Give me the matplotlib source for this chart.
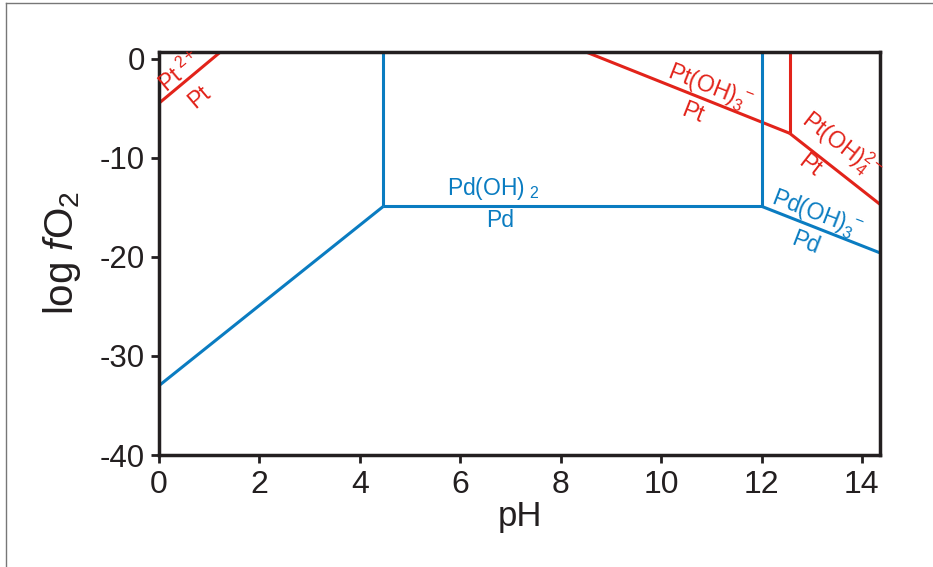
import matplotlib
matplotlib.use('Agg')
import matplotlib.pyplot as plt
from matplotlib.lines import Line2D

plt.rcParams['font.family'] = ['Liberation Sans', 'DejaVu Sans']
plt.rcParams['mathtext.fontset'] = 'custom'
plt.rcParams['mathtext.rm'] = 'Liberation Sans'
plt.rcParams['mathtext.it'] = 'Liberation Sans:italic'
plt.rcParams['mathtext.default'] = 'regular'
plt.rcParams['axes.unicode_minus'] = False

red = '#e2231a'
blue = '#0a7cc1'
dark = '#231f20'

# Pt boundaries
pt2_ph = [0, 1.23]
pt2_fo2 = [-4.5, 0.7]
pt3_ph = [8.49, 12.56]
pt3_fo2 = [0.7, -7.53]
pt34_ph = [12.56, 12.56]
pt34_fo2 = [-7.53, 0.7]
pt4_ph = [12.56, 14.36]
pt4_fo2 = [-7.53, -14.7]

# Pd boundaries
pd_left_ph = [0, 4.47]
pd_left_fo2 = [-33.0, -14.9]
pd_v1_ph = [4.47, 4.47]
pd_v1_fo2 = [-14.9, 0.7]
pd_h_ph = [4.47, 12.0]
pd_h_fo2 = [-14.9, -14.9]
pd_v2_ph = [12.0, 12.0]
pd_v2_fo2 = [-14.9, 0.7]
pd3_ph = [12.0, 14.36]
pd3_fo2 = [-14.9, -19.6]

xticks = [0, 2, 4, 6, 8, 10, 12, 14]
yticks = [0, -10, -20, -30, -40]

fig = plt.figure(figsize=(9.33, 5.67), dpi=100)
ax = fig.add_axes([0.1704, 0.1975, 0.7728, 0.7113])

lw = 2.2
for xs, ys in [(pt2_ph, pt2_fo2), (pt3_ph, pt3_fo2), (pt34_ph, pt34_fo2), (pt4_ph, pt4_fo2)]:
    ax.plot(xs, ys, color=red, lw=lw, solid_capstyle='butt')
for xs, ys in [(pd_left_ph, pd_left_fo2), (pd_v1_ph, pd_v1_fo2), (pd_h_ph, pd_h_fo2),
               (pd_v2_ph, pd_v2_fo2), (pd3_ph, pd3_fo2)]:
    ax.plot(xs, ys, color=blue, lw=lw, solid_capstyle='butt')

ax.set_xlim(0, 14.36)
ax.set_ylim(-40, 0.7)
ax.set_xticks(xticks)
ax.set_yticks(yticks)
ax.tick_params(direction='out', length=6, width=2, color=dark, labelcolor=dark)
ax.tick_params(axis='x', labelsize=23, pad=5)
ax.tick_params(axis='y', labelsize=22.5, pad=4)
for s in ax.spines.values():
    s.set_linewidth(2.5)
    s.set_color(dark)
ax.set_xlabel('pH', fontsize=25, color=dark, labelpad=0)
ax.set_ylabel(r'log $\mathit{f}$O$_2$', fontsize=29, color=dark, labelpad=12)

fs = 16.5
ax.text(0.42, -1.4, r'Pt$^{\ 2+}$', color=red, fontsize=fs, rotation=40, ha='center', va='center')
ax.text(0.8, -3.9, 'Pt', color=red, fontsize=fs, rotation=40, ha='center', va='center')
ax.text(10.97, -3.0, r'Pt(OH)$_{3}^{\ -}$', color=red, fontsize=fs, rotation=-21.5, ha='center', va='center')
ax.text(10.62, -5.5, 'Pt', color=red, fontsize=fs, rotation=-21.5, ha='center', va='center')
ax.text(13.6, -8.75, r'Pt(OH)$_{4}^{2-}$', color=red, fontsize=fs, rotation=-38, ha='center', va='center')
ax.text(12.96, -10.75, 'Pt', color=red, fontsize=fs, rotation=-38, ha='center', va='center')
ax.text(6.66, -13.1, r'Pd(OH)$_{\ 2}$', color=blue, fontsize=fs, ha='center', va='center')
ax.text(6.8, -16.3, 'Pd', color=blue, fontsize=fs, ha='center', va='center')
ax.text(13.1, -15.8, r'Pd(OH)$_{3}^{\ -}$', color=blue, fontsize=fs, rotation=-21, ha='center', va='center')
ax.text(12.88, -18.6, 'Pd', color=blue, fontsize=fs, rotation=-21, ha='center', va='center')

# thin frame on top and left of the picture
fig.add_artist(Line2D([0.006, 1.0], [0.995, 0.995], color='#777777', lw=1, transform=fig.transFigure))
fig.add_artist(Line2D([0.006, 0.006], [0.0, 0.995], color='#777777', lw=1, transform=fig.transFigure))

fig.savefig('out.png', dpi=100)
